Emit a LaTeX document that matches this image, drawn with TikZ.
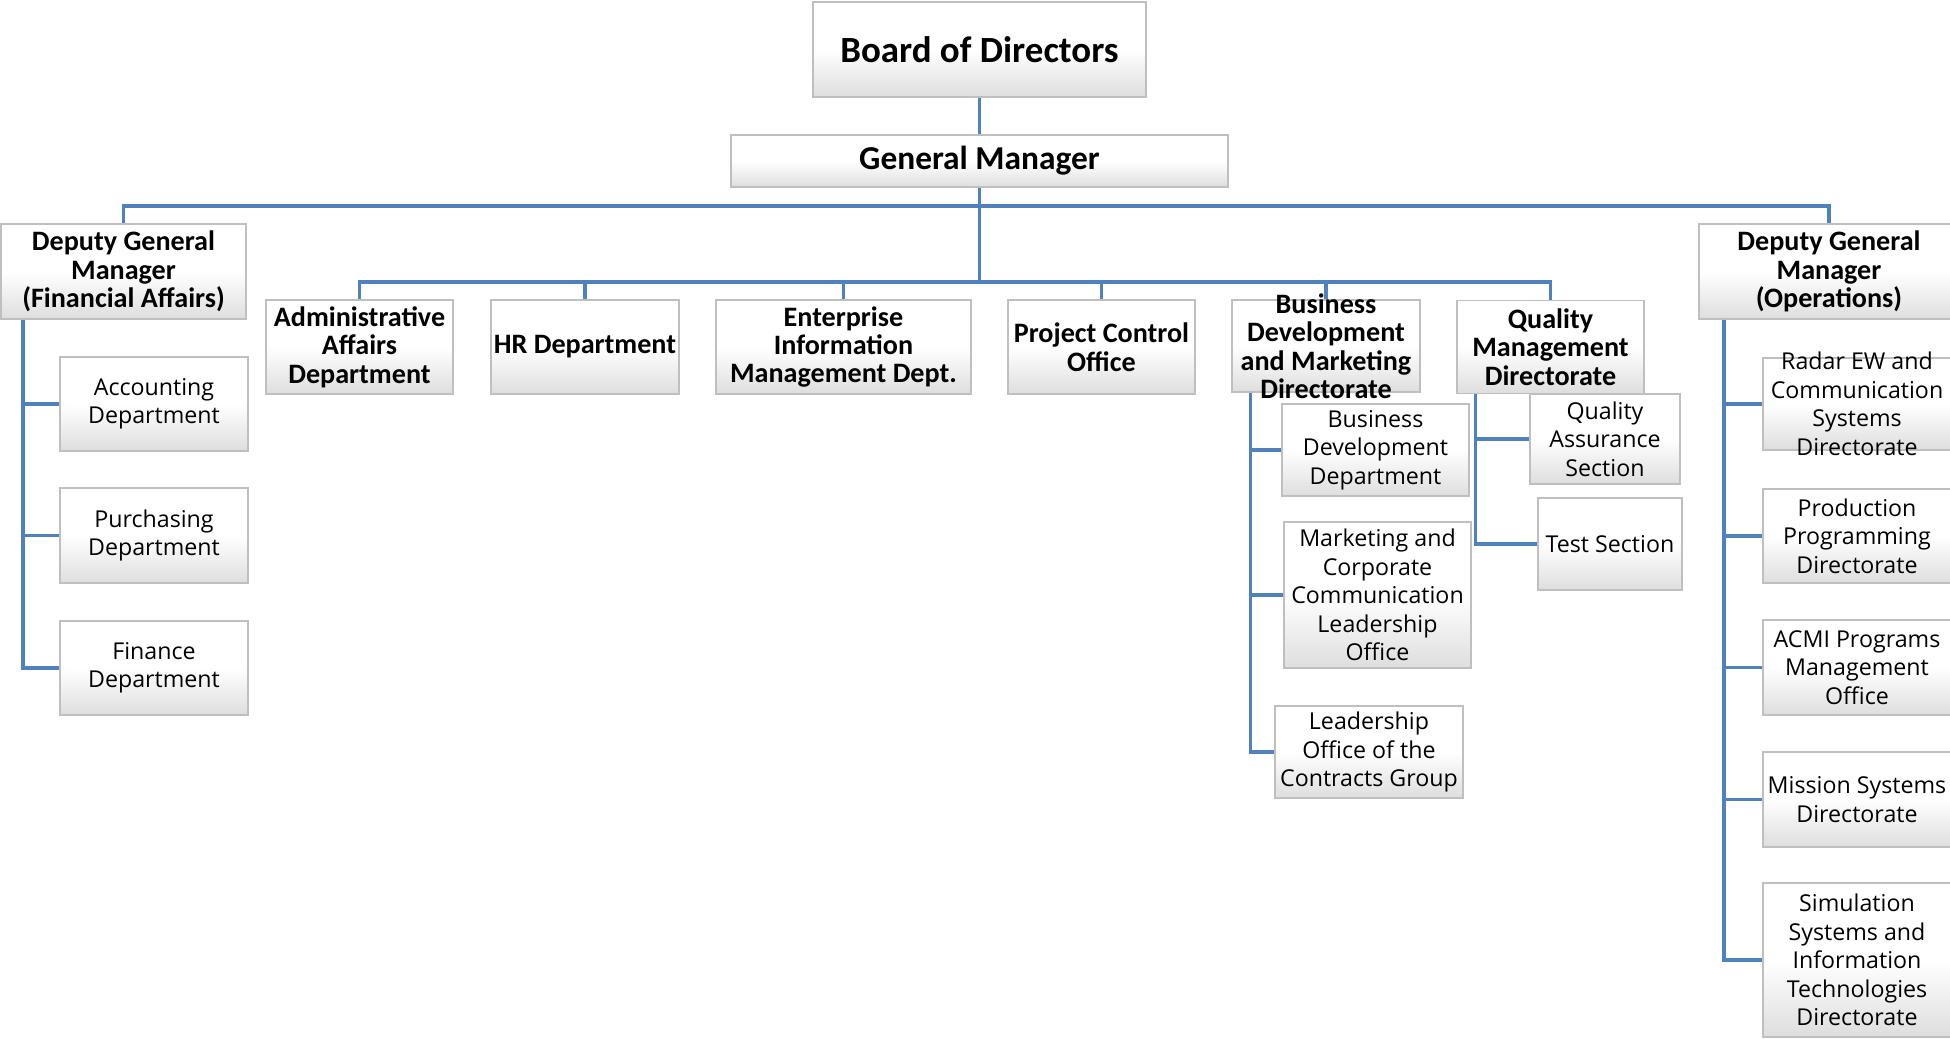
\documentclass[tikz,border=0pt]{standalone}
\usepackage{fontspec}
\setmainfont{Open Sans}
\newfontfamily\calibri{Carlito}
\definecolor{linkblue}{RGB}{79,129,189}
\begin{document}
\begin{tikzpicture}[x=0.01cm,y=-0.01cm,
    unit/.style={draw=black!25, line width=0.5pt, top color=white, bottom color=black!13, middle color=white, inner sep=0pt, align=center},
    head/.style={unit, font=\calibri\bfseries\fontsize{8}{8.1}\selectfont},
    dept/.style={unit, font=\fontsize{6.6}{8.1}\selectfont},
    link/.style={draw=linkblue, line width=0.9pt}]
    \clip (0,0) rectangle (1950,1039);
    \node[head, minimum width=3.33cm, minimum height=0.95cm, font=\calibri\bfseries\fontsize{10.5}{11}\selectfont] (board) at (979.5,49.5) {Board of Directors};
    \node[head, minimum width=4.96cm, minimum height=0.52cm, font=\calibri\bfseries\fontsize{9.5}{10}\selectfont] (gm) at (979.5,161) {General Manager};
    \coordinate (gmbus1) at (979.5,206);
    \coordinate (gmbus2) at (979.5,282);
    \node[head, minimum width=2.45cm, minimum height=0.95cm] (dgmf) at (123.5,271.5) {Deputy General\\Manager\\(Financial Affairs)};
    \node[dept, minimum width=1.88cm, minimum height=0.94cm] (acc) at (154,404) {Accounting\\Department};
    \node[dept, minimum width=1.88cm, minimum height=0.95cm] (pur) at (154,535.5) {Purchasing\\Department};
    \node[dept, minimum width=1.88cm, minimum height=0.94cm] (fin) at (154,668) {Finance\\Department};
    \node[head, minimum width=1.87cm, minimum height=0.94cm] (adm) at (359.5,347) {Administrative\\Affairs\\Department};
    \node[head, minimum width=1.88cm, minimum height=0.94cm] (hr) at (585,347) {HR Department};
    \node[head, minimum width=2.55cm, minimum height=0.94cm] (eim) at (843.5,347) {Enterprise\\Information\\Management Dept.};
    \node[head, minimum width=1.87cm, minimum height=0.94cm] (pco) at (1101.5,347) {Project Control\\Office};
    \node[head, minimum width=1.88cm, minimum height=0.92cm, inner ysep=-10pt] (bdm) at (1326,346) {Business\\Development\\and Marketing\\Directorate};
    \node[head, minimum width=1.87cm, minimum height=0.93cm] (qmd) at (1550.5,347) {Quality\\Management\\Directorate};
    \node[dept, minimum width=1.87cm, minimum height=0.92cm] (bdd) at (1375.5,450) {Business\\Development\\Department};
    \node[dept, minimum width=1.87cm, minimum height=1.46cm] (mcc) at (1377.5,595) {Marketing and\\Corporate\\Communication\\Leadership\\Office};
    \node[dept, minimum width=1.88cm, minimum height=0.92cm] (loc) at (1369,752) {Leadership\\Office of the\\Contracts Group};
    \node[dept, minimum width=1.50cm, minimum height=0.90cm] (qas) at (1605,439) {Quality\\Assurance\\Section};
    \node[dept, minimum width=1.44cm, minimum height=0.92cm] (tst) at (1610,544) {Test Section};
    \node[head, minimum width=2.60cm, minimum height=0.95cm] (dgmo) at (1829,271.5) {Deputy General\\Manager\\(Operations)};
    \node[dept, minimum width=1.88cm, minimum height=0.92cm, inner ysep=-10pt] (radar) at (1857,404) {Radar EW and\\Communication\\Systems\\Directorate};
    \node[dept, minimum width=1.88cm, minimum height=0.94cm] (prod) at (1857,536) {Production\\Programming\\Directorate};
    \node[dept, minimum width=1.88cm, minimum height=0.95cm] (acmi) at (1857,667.5) {ACMI Programs\\Management\\Office};
    \node[dept, minimum width=1.88cm, minimum height=0.95cm] (mis) at (1857,799.5) {Mission Systems\\Directorate};
    \node[dept, minimum width=1.88cm, minimum height=1.54cm] (sim) at (1857,960) {Simulation\\Systems and\\Information\\Technologies\\Directorate};
    \draw[link] (board.south) -- (gm.north);
    \draw[link] (gm.south) -- (gmbus2);
    \draw[link] (gmbus1) -| (dgmf.north);
    \draw[link] (gmbus1) -| (dgmo.north);
    \foreach \n in {adm,hr,eim,pco,bdm,qmd}
        \draw[link] (gmbus2) -| (\n.north);
    \foreach \n in {acc,pur,fin}
        \draw[link] ([xshift=0.23cm]dgmf.south west) |- (\n.west);
    \foreach \n in {bdd,mcc,loc}
        \draw[link] ([xshift=0.19cm]bdm.south west) |- (\n.west);
    \foreach \n in {qas,tst}
        \draw[link] ([xshift=0.19cm]qmd.south west) |- (\n.west);
    \foreach \n in {radar,prod,acmi,mis,sim}
        \draw[link] ([xshift=0.26cm]dgmo.south west) |- (\n.west);
\end{tikzpicture}
\end{document}
